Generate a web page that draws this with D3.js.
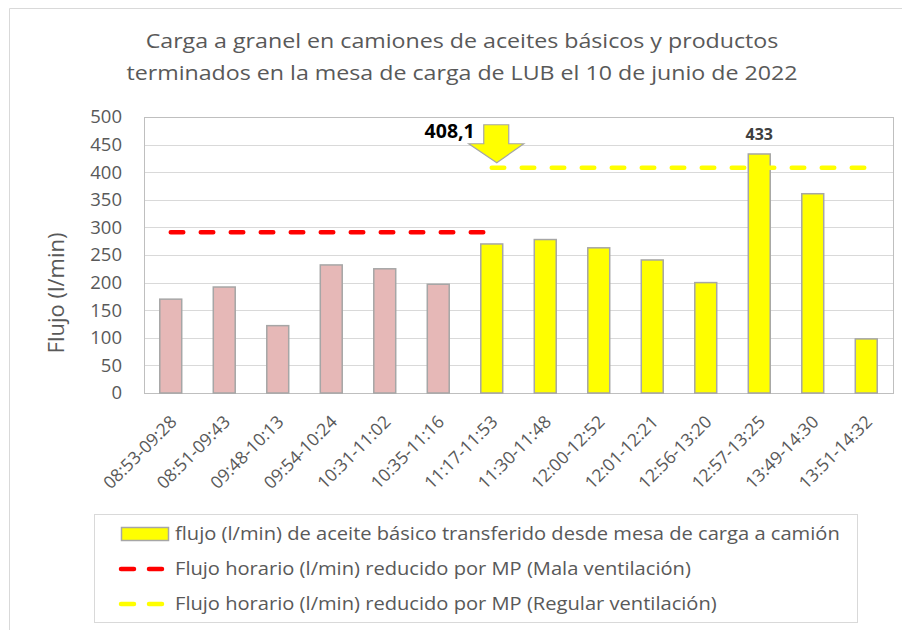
<!DOCTYPE html>
<html>
<head>
<meta charset="utf-8">
<script src="https://cdn.jsdelivr.net/npm/d3@7"></script>
<style>
  body { margin: 0; background: #fff; }
  svg { font-family: "Open Sans", sans-serif; }
</style>
</head>
<body>
<svg id="chart" width="902" height="630"></svg>
<script>
// data
const periods = ["08:53-09:28", "08:51-09:43", "09:48-10:13", "09:54-10:24", "10:31-11:02", "10:35-11:16",
  "11:17-11:53", "11:30-11:48", "12:00-12:52", "12:01-12:21", "12:56-13:20", "12:57-13:25", "13:49-14:30", "13:51-14:32"];
const flujo = [170, 192, 122, 232, 225, 197, 270, 278, 263, 241, 200, 433, 361, 98];
const ventilacion = ["mala", "mala", "mala", "mala", "mala", "mala",
  "regular", "regular", "regular", "regular", "regular", "regular", "regular", "regular"];
const limiteMala = [291, 291, 291, 291, 291, 291, 291, null, null, null, null, null, null, null];
const limiteRegular = [null, null, null, null, null, null, 408.1, 408.1, 408.1, 408.1, 408.1, 408.1, 408.1, 408.1];
const yTicks = [0, 50, 100, 150, 200, 250, 300, 350, 400, 450, 500];
const titleLines = ["Carga a granel en camiones de aceites básicos y productos",
  "terminados en la mesa de carga de LUB el 10 de junio de 2022"];
const legendLabels = [
  "flujo (l/min) de aceite básico transferido desde mesa de carga a camión",
  "Flujo horario (l/min) reducido por MP (Mala ventilación)",
  "Flujo horario (l/min) reducido por MP (Regular ventilación)"
];

const textColor = "#595959";
const plot = { left: 144, right: 893, top: 117, bottom: 393 };
const svg = d3.select("#chart");

// outer chart border (only top and left are inside the picture)
svg.append("path")
  .attr("d", "M9.5,640 V8.5 H910")
  .attr("fill", "none")
  .attr("stroke", "#d9d9d9");

// title (the source text is a bit wider than Open Sans, hence the x stretch)
svg.append("g")
  .selectAll("text")
  .data(titleLines)
  .enter()
  .append("text")
  .attr("transform", (d, i) => `translate(462,${48 + i * 32}) scale(1.16,1)`)
  .attr("text-anchor", "middle")
  .attr("font-size", 20)
  .attr("fill", textColor)
  .text(d => d);

const x = d3.scaleBand().domain(periods).range([plot.left, plot.right]).padding(0);
const y = d3.scaleLinear().domain([0, 500]).range([plot.bottom, plot.top]);
const color = d3.scaleOrdinal().domain(["mala", "regular"]).range(["#e6b8b7", "#ffff00"]);
const barW = x.bandwidth() * 0.41;

// gridlines
svg.append("g")
  .selectAll("line")
  .data(yTicks)
  .enter()
  .append("line")
  .attr("x1", plot.left)
  .attr("x2", plot.right)
  .attr("y1", d => Math.round(y(d)) + 0.5)
  .attr("y2", d => Math.round(y(d)) + 0.5)
  .attr("stroke", "#d9d9d9");

// plot border
svg.append("rect")
  .attr("x", plot.left + 0.5)
  .attr("y", plot.top + 0.5)
  .attr("width", plot.right - plot.left)
  .attr("height", plot.bottom - plot.top)
  .attr("fill", "none")
  .attr("stroke", "#bfbfbf");

// y axis
const yAxis = svg.append("g")
  .attr("transform", `translate(${plot.left},0)`)
  .call(d3.axisLeft(y).tickValues(yTicks).tickSize(0).tickPadding(22));
yAxis.select(".domain").remove();
yAxis.selectAll("text")
  .attr("font-family", "Open Sans")
  .attr("font-size", 18.5)
  .attr("fill", textColor);

svg.append("text")
  .attr("transform", "translate(64,293) rotate(-90)")
  .attr("text-anchor", "middle")
  .attr("font-size", 22)
  .attr("fill", textColor)
  .text("Flujo (l/min)");

// x axis labels
const xAxis = svg.append("g")
  .attr("transform", `translate(0,${plot.bottom})`)
  .call(d3.axisBottom(x).tickSize(0).tickPadding(0));
xAxis.select(".domain").remove();
xAxis.selectAll("text")
  .attr("font-family", "Open Sans")
  .attr("font-size", 17.5)
  .attr("fill", textColor)
  .attr("text-anchor", "end")
  .attr("dy", 0)
  .attr("y", 0)
  .attr("transform", "translate(7,30) rotate(-45)");

// bars
svg.append("g")
  .selectAll("rect")
  .data(flujo)
  .enter()
  .append("rect")
  .attr("x", (d, i) => x(periods[i]) + (x.bandwidth() - barW) / 2)
  .attr("y", d => y(d))
  .attr("width", barW)
  .attr("height", d => y(0) - y(d))
  .attr("fill", (d, i) => color(ventilacion[i]))
  .attr("stroke", "#a6a6a6")
  .attr("stroke-width", 1.5);

// dashed limit lines
const line = d3.line()
  .defined(d => d != null)
  .x((d, i) => x(periods[i]) + x.bandwidth() / 2)
  .y(d => y(d));

[[limiteMala, "#ff0000"], [limiteRegular, "#ffff00"]].forEach(([vals, c]) => {
  svg.append("path")
    .datum(vals)
    .attr("d", line)
    .attr("fill", "none")
    .attr("stroke", c)
    .attr("stroke-width", 4.5)
    .attr("stroke-linecap", "round")
    .attr("stroke-dasharray", "12.5,17.5");
});

// label for the highest bar
const iMax = flujo.indexOf(d3.max(flujo));
svg.append("text")
  .attr("x", x(periods[iMax]) + x.bandwidth() / 2)
  .attr("y", y(flujo[iMax]) - 14)
  .attr("text-anchor", "middle")
  .attr("font-size", 16)
  .attr("font-weight", "bold")
  .attr("fill", "#404040")
  .text(flujo[iMax]);

// arrow callout pointing at the regular-ventilation limit
const ax = x(periods[6]) + x.bandwidth() / 2 + 5;
const ay = y(limiteRegular[6]) - 5;
svg.append("path")
  .attr("d", `M${ax},${ay} L${ax - 28},${ay - 19} L${ax - 13},${ay - 19} L${ax - 13},${ay - 38} ` +
    `L${ax + 12},${ay - 38} L${ax + 12},${ay - 19} L${ax + 27},${ay - 19} Z`)
  .attr("fill", "#ffff00")
  .attr("stroke", "#a6a6a6")
  .attr("stroke-width", 1.2);
svg.append("text")
  .attr("x", ax - 22)
  .attr("y", ay - 25)
  .attr("text-anchor", "end")
  .attr("font-size", 19.5)
  .attr("font-weight", "bold")
  .attr("fill", "#000")
  .text(d3.format(".1f")(limiteRegular[6]).replace(".", ","));

// legend
const legend = svg.append("g");
legend.append("rect")
  .attr("x", 94.5)
  .attr("y", 514.5)
  .attr("width", 763)
  .attr("height", 108)
  .attr("fill", "#fff")
  .attr("stroke", "#d9d9d9");

const rows = legend.selectAll("g.row")
  .data(legendLabels)
  .enter()
  .append("g")
  .attr("class", "row")
  .attr("transform", (d, i) => `translate(0,${534 + i * 35})`);

rows.filter((d, i) => i === 0)
  .append("rect")
  .attr("x", 121.5)
  .attr("y", -6.5)
  .attr("width", 47)
  .attr("height", 13)
  .attr("fill", "#ffff00")
  .attr("stroke", "#a6a6a6")
  .attr("stroke-width", 1.5);

rows.filter((d, i) => i > 0)
  .append("line")
  .attr("x1", 121)
  .attr("x2", 166)
  .attr("y1", 0)
  .attr("y2", 0)
  .attr("stroke", (d, i) => ["#ff0000", "#ffff00"][i])
  .attr("stroke-width", 4.5)
  .attr("stroke-linecap", "round")
  .attr("stroke-dasharray", "13,15");

rows.append("text")
  .attr("transform", "translate(175,0) scale(1.15,1)")
  .attr("dy", "0.35em")
  .attr("font-size", 17.5)
  .attr("fill", textColor)
  .text(d => d);
</script>
</body>
</html>
